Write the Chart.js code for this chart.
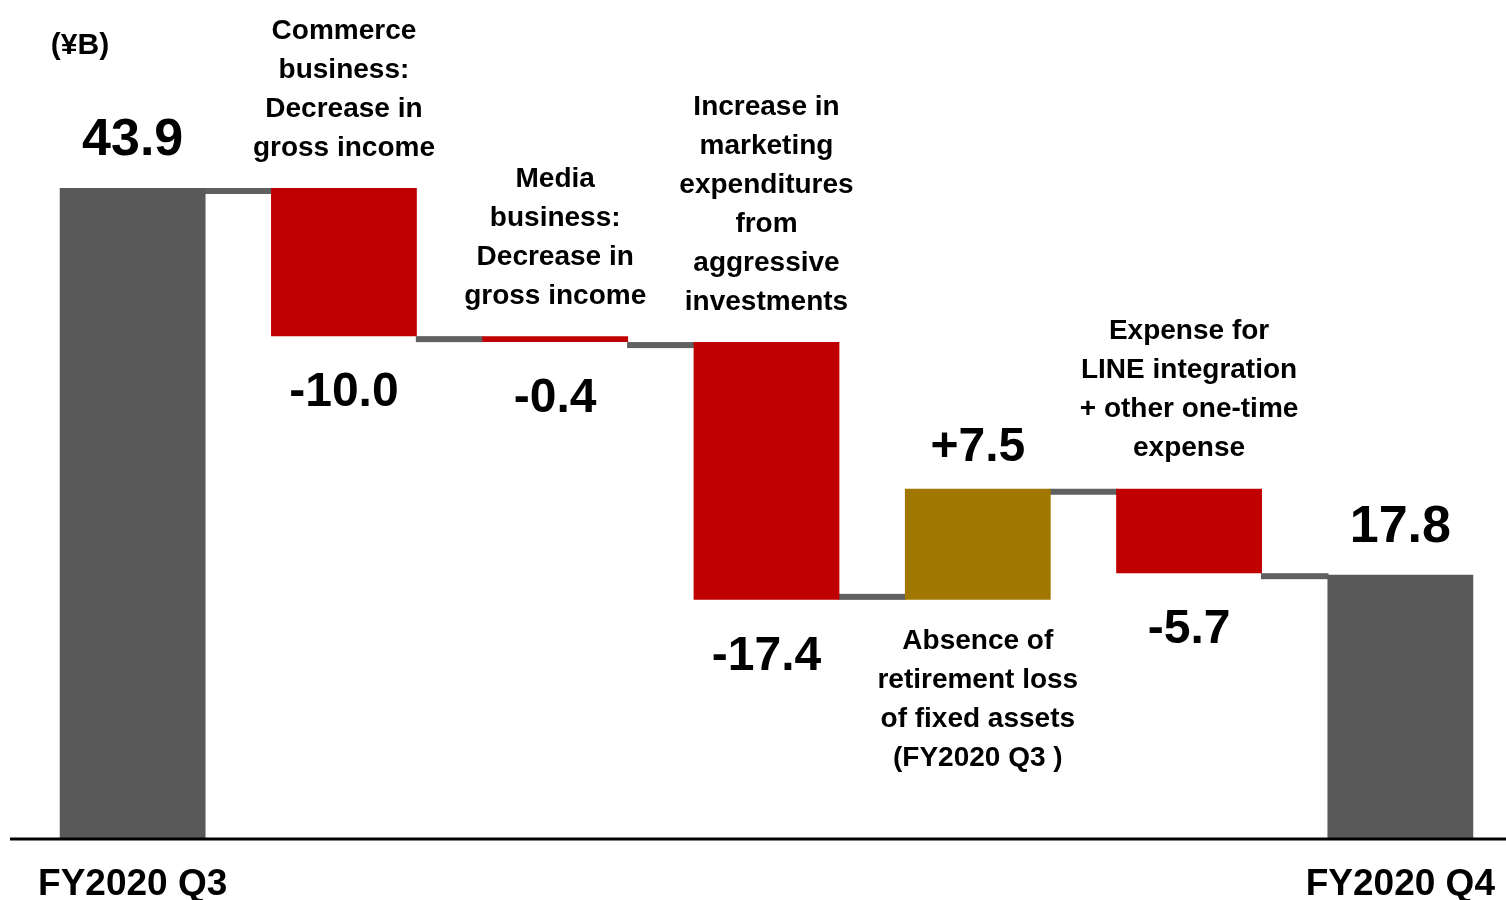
<!DOCTYPE html>
<html>
<head>
<meta charset="utf-8">
<title>Operating income bridge FY2020 Q3 to Q4</title>
<script src="https://cdn.jsdelivr.net/npm/chart.js@4/dist/chart.umd.min.js"></script>
<style>
  html, body { margin: 0; padding: 0; background: #fff; overflow: hidden; }
  #wrap { position: relative; width: 1506px; height: 932px; }
</style>
</head>
<body>
<div id="wrap"><canvas id="bridgeChart"></canvas></div>
<script>
const unitLabel = '(¥B)';
const tickLabels = ['FY2020 Q3', '', '', '', '', '', 'FY2020 Q4'];
const startValue = 43.9;
const endValue = 17.8;
const changes = [-10.0, -0.4, -17.4, 7.5, -5.7];
const stepNotes = [
  [],
  ['Commerce', 'business:', 'Decrease in', 'gross income'],
  ['Media', 'business:', 'Decrease in', 'gross income'],
  ['Increase in', 'marketing', 'expenditures', 'from', 'aggressive', 'investments'],
  ['Absence of', 'retirement loss', 'of fixed assets', '(FY2020 Q3 )'],
  ['Expense for', 'LINE integration', '+ other one-time', 'expense'],
  []
];

const FONT = "'Liberation Sans', Arial, Helvetica, sans-serif";
const colors = { total: '#595959', down: '#C00000', up: '#A07800' };

// floating bar ranges and the running level after each step
const ranges = [[0, startValue]];
const levels = [startValue];
let level = startValue;
changes.forEach(d => {
  const next = Math.round((level + d) * 10) / 10;
  ranges.push([Math.min(level, next), Math.max(level, next)]);
  levels.push(next);
  level = next;
});
ranges.push([0, endValue]);
levels.push(endValue);

const values = [startValue, ...changes, endValue];
const kinds = ['total', ...changes.map(d => d < 0 ? 'down' : 'up'), 'total'];
const valueText = values.map((v, i) =>
  kinds[i] === 'total' ? v.toFixed(1) : (v > 0 ? '+' : '') + v.toFixed(1));

const bridgePlugin = {
  id: 'bridge',
  beforeDatasetsDraw(chart) {
    const ctx = chart.ctx;
    const y = chart.scales.y;
    const bars = chart.getDatasetMeta(0).data;
    ctx.save();
    ctx.fillStyle = '#606060';
    for (let i = 0; i < bars.length - 1; i++) {
      const a = bars[i], b = bars[i + 1];
      const py = y.getPixelForValue(levels[i]);
      const goesDown = ranges[i + 1][0] < levels[i] - 1e-9;
      const x0 = a.x + a.width / 2 - 1;
      const x1 = b.x - b.width / 2 + 1;
      ctx.fillRect(x0, goesDown ? py : py - 6, x1 - x0, 6);
    }
    ctx.restore();
  },
  afterDatasetsDraw(chart) {
    const ctx = chart.ctx;
    const y = chart.scales.y;
    const bars = chart.getDatasetMeta(0).data;
    ctx.save();

    // baseline
    const zero = y.getPixelForValue(0);
    ctx.strokeStyle = '#000';
    ctx.lineWidth = 3;
    ctx.beginPath();
    ctx.moveTo(10, zero + 0.5);
    ctx.lineTo(chart.width, zero + 0.5);
    ctx.stroke();

    ctx.fillStyle = '#000';
    ctx.textAlign = 'center';
    ctx.textBaseline = 'middle';

    ctx.font = 'bold 30px ' + FONT;
    ctx.fillText(unitLabel, 80, 46);

    bars.forEach((bar, i) => {
      const top = Math.min(bar.y, bar.base);
      const bottom = Math.max(bar.y, bar.base);
      const notes = stepNotes[i];
      const lh = 39;
      if (kinds[i] === 'total') {
        ctx.font = 'bold 52px ' + FONT;
        ctx.fillText(valueText[i], bar.x, top - 47);
      } else if (kinds[i] === 'down') {
        ctx.font = 'bold 48px ' + FONT;
        ctx.fillText(valueText[i], bar.x, bottom + 57);
        ctx.font = 'bold 28px ' + FONT;
        notes.forEach((line, k) => {
          ctx.fillText(line, bar.x, top - 40 - (notes.length - 1 - k) * lh);
        });
      } else {
        ctx.font = 'bold 48px ' + FONT;
        ctx.fillText(valueText[i], bar.x, top - 41);
        ctx.font = 'bold 28px ' + FONT;
        notes.forEach((line, k) => {
          ctx.fillText(line, bar.x, bottom + 41 + k * lh);
        });
      }
    });
    ctx.restore();
  }
};

new Chart(document.getElementById('bridgeChart'), {
  type: 'bar',
  data: {
    labels: tickLabels,
    datasets: [{
      data: ranges,
      backgroundColor: kinds.map(k => colors[k]),
      borderWidth: 0,
      borderSkipped: false,
      categoryPercentage: 0.69,
      barPercentage: 1
    }]
  },
  options: {
    responsive: true,
    maintainAspectRatio: false,
    animation: false,
    layout: { padding: { top: 188, left: 27, right: 0, bottom: 0 } },
    plugins: {
      legend: { display: false },
      tooltip: { enabled: false }
    },
    scales: {
      x: {
        grid: { display: false, drawTicks: false },
        border: { display: false },
        ticks: {
          autoSkip: false,
          maxRotation: 0,
          padding: 0,
          color: '#000',
          font: { family: FONT, size: 37, weight: 'bold', lineHeight: 2.53 }
        }
      },
      y: {
        display: false,
        min: 0,
        max: startValue
      }
    }
  },
  plugins: [bridgePlugin]
});
</script>
</body>
</html>
